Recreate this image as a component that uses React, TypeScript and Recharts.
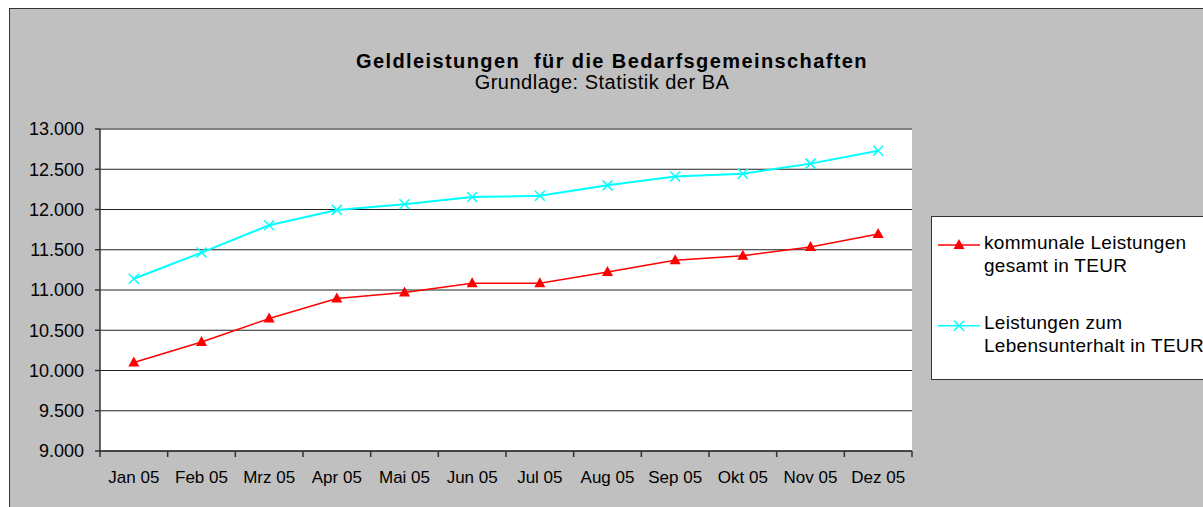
import React from 'react';
import {
  LineChart,
  Line,
  XAxis,
  YAxis,
  CartesianGrid,
  Legend,
  ReferenceLine
} from 'recharts';

const months = [
  'Jan 05', 'Feb 05', 'Mrz 05', 'Apr 05', 'Mai 05', 'Jun 05',
  'Jul 05', 'Aug 05', 'Sep 05', 'Okt 05', 'Nov 05', 'Dez 05'
];

// kommunale Leistungen gesamt in TEUR
const kommunaleLeistungen = [10100, 10355, 10645, 10895, 10970, 11085, 11085, 11225, 11370, 11425, 11535, 11695];

// Leistungen zum Lebensunterhalt in TEUR
const lebensunterhalt = [11140, 11465, 11805, 11995, 12065, 12155, 12170, 12300, 12410, 12445, 12570, 12730];

const yTicks = [9000, 9500, 10000, 10500, 11000, 11500, 12000, 12500, 13000];

const FONT = '"Liberation Sans", Arial, sans-serif';

// category positions sit in the middle of each band, tick marks on the band edges
const data = months.map((month, i) => ({
  month,
  pos: i + 0.5,
  kommunal: kommunaleLeistungen[i],
  lebens: lebensunterhalt[i]
}));
const xTicks = months.flatMap((_, i) => [i, i + 0.5]).concat(months.length);

const formatDe = (v: number) => String(v).replace(/\B(?=(\d{3})+(?!\d))/g, '.');

const MonthTick = ({ x, y, payload }: any) => {
  const v = payload.value;
  if (Number.isInteger(v)) {
    return <line x1={x} x2={x} y1={y - 20} y2={y - 14} stroke="#333" strokeWidth={1.5} />;
  }
  return (
    <text x={x} y={y + 12} textAnchor="middle" fontSize={17} fill="#000" fontFamily={FONT}>
      {months[Math.floor(v)]}
    </text>
  );
};

const TriangleDot = ({ cx, cy, index }: any) => {
  if (cx == null || cy == null) return null;
  return <path key={index} d={`M${cx},${cy - 6}L${cx + 5.5},${cy + 4}L${cx - 5.5},${cy + 4}Z`} fill="#ff0000" />;
};

const CrossDot = ({ cx, cy, index }: any) => {
  if (cx == null || cy == null) return null;
  return (
    <path
      key={index}
      d={`M${cx - 5},${cy - 5}L${cx + 5},${cy + 5}M${cx - 5},${cy + 5}L${cx + 5},${cy - 5}`}
      stroke="#00ffff"
      strokeWidth={1.5}
    />
  );
};

const LegendBox = () => (
  <div
    style={{
      position: 'relative',
      width: 290,
      height: 164,
      background: '#fff',
      border: '1px solid #333',
      boxSizing: 'border-box',
      fontFamily: FONT,
      fontSize: 19,
      letterSpacing: 0.3,
      lineHeight: '22.7px',
      color: '#000'
    }}
  >
    <svg width={50} height={164} style={{ position: 'absolute', left: 0, top: 0 }}>
      <line x1={6} x2={48} y1={28} y2={28} stroke="#ff0000" strokeWidth={1.5} />
      <path d="M27,22L32.5,32L21.5,32Z" fill="#ff0000" />
      <line x1={6} x2={48} y1={108.7} y2={108.7} stroke="#00ffff" strokeWidth={1.5} />
      <path d="M22,103.7L32,113.7M22,113.7L32,103.7" stroke="#00ffff" strokeWidth={1.5} />
    </svg>
    <div style={{ position: 'absolute', left: 52, top: 15.1, whiteSpace: 'nowrap' }}>
      kommunale Leistungen<br />gesamt in TEUR
    </div>
    <div style={{ position: 'absolute', left: 52, top: 95.1, whiteSpace: 'nowrap' }}>
      Leistungen zum<br />Lebensunterhalt in TEUR
    </div>
  </div>
);

export default function App() {
  return (
    <div
      style={{
        position: 'fixed',
        left: 9,
        top: 8,
        width: 1194,
        height: 499,
        background: '#c0c0c0',
        borderLeft: '1px solid #333',
        borderTop: '1px solid #333',
        boxSizing: 'border-box',
        overflow: 'hidden',
        fontFamily: FONT
      }}
    >
      <div
        style={{
          position: 'absolute',
          left: 602 - 400,
          width: 800,
          top: 42.4,
          textAlign: 'center',
          fontSize: 20,
          lineHeight: '20px',
          fontWeight: 'bold',
          letterSpacing: 1.4,
          whiteSpace: 'nowrap'
        }}
      >
        Geldleistungen&nbsp; für die Bedarfsgemeinschaften
      </div>
      <div
        style={{
          position: 'absolute',
          left: 592 - 400,
          width: 800,
          top: 63,
          textAlign: 'center',
          fontSize: 20,
          lineHeight: '20px',
          letterSpacing: 0.5,
          whiteSpace: 'nowrap'
        }}
      >
        Grundlage: Statistik der BA
      </div>
      <div style={{ position: 'absolute', left: 0, top: 0 }}>
        <LineChart
          width={1193}
          height={498}
          data={data}
          margin={{ top: 120, right: 291, bottom: 26, left: 20 }}
        >
          <CartesianGrid vertical={false} fill="#ffffff" stroke="#222" strokeWidth={1} />
          <XAxis
            dataKey="pos"
            type="number"
            domain={[0, months.length]}
            ticks={xTicks}
            interval={0}
            height={30}
            tickLine={false}
            tickSize={6}
            tickMargin={14}
            axisLine={{ stroke: '#333', strokeWidth: 1.5 }}
            tick={<MonthTick />}
          />
          <YAxis
            domain={[9000, 13000]}
            ticks={yTicks}
            interval={0}
            width={70}
            tickSize={5}
            tickMargin={11}
            tickFormatter={formatDe}
            tick={{ fontSize: 18, fill: '#000', fontFamily: FONT }}
            tickLine={{ stroke: '#333', strokeWidth: 1.5 }}
            axisLine={{ stroke: '#333', strokeWidth: 1.5 }}
          />
          <YAxis
            yAxisId="frame"
            orientation="right"
            width={0}
            tick={false}
            tickLine={false}
            axisLine={{ stroke: '#808080', strokeWidth: 2 }}
          />
          <ReferenceLine y={13000} stroke="#808080" strokeWidth={2} />
          <Legend
            layout="vertical"
            align="center"
            verticalAlign="middle"
            wrapperStyle={{ left: 921, top: 207, width: 290 }}
            content={<LegendBox />}
          />
          <Line
            type="linear"
            dataKey="kommunal"
            name="kommunale Leistungen gesamt in TEUR"
            stroke="#ff0000"
            strokeWidth={1.5}
            dot={<TriangleDot />}
            activeDot={false}
            isAnimationActive={false}
          />
          <Line
            type="linear"
            dataKey="lebens"
            name="Leistungen zum Lebensunterhalt in TEUR"
            stroke="#00ffff"
            strokeWidth={2}
            dot={<CrossDot />}
            activeDot={false}
            isAnimationActive={false}
          />
        </LineChart>
      </div>
    </div>
  );
}
